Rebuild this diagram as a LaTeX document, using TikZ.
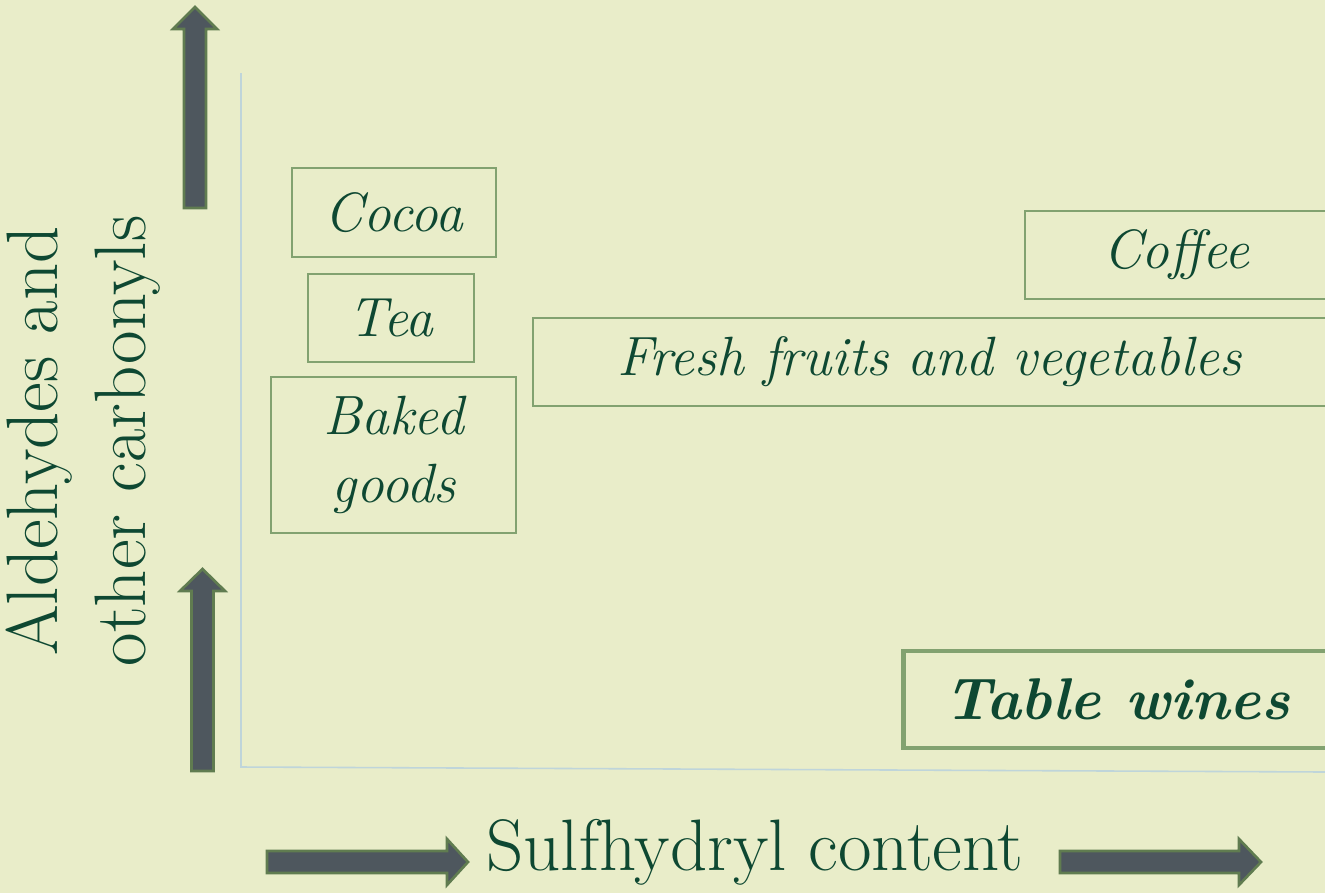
\documentclass[tikz,border=0pt]{standalone}
\usepackage{fontspec}
\definecolor{slidebg}{RGB}{233,237,201}
\definecolor{inkgreen}{RGB}{14,72,50}
\definecolor{boxgreen}{RGB}{130,162,112}
\definecolor{arrowfill}{RGB}{78,87,94}
\definecolor{arrowedge}{RGB}{96,124,80}
\definecolor{axisblue}{RGB}{191,213,218}
\tikzset{
  foodbox/.style={draw=boxgreen, line width=1.1pt, inner sep=0pt, align=center,
    text=inkgreen, font=\fontsize{31.5}{39}\selectfont\itshape},
  winebox/.style={foodbox, line width=2.8pt, font=\fontsize{33.5}{40}\selectfont\bfseries\itshape},
  fatarrow/.style={fill=arrowfill, draw=arrowedge, line width=1.5pt, line join=miter},
  axisline/.style={draw=axisblue, line width=0.9pt},
  axislabel/.style={text=inkgreen, font=\fontsize{41.5}{50}\selectfont, inner sep=0pt, align=center}
}
\begin{document}
\begin{tikzpicture}[x=0.02cm, y=-0.02cm]
  % Page and background
  \useasboundingbox (0,0) rectangle (1325,893);
  \fill[slidebg] (0,0) rectangle (1325,893);
  \clip (0,0) rectangle (1325,893);

  % Axis corner
  \coordinate (ytop) at (241,73);
  \coordinate (origin) at (241,767);
  \coordinate (xend) at (1325,772);
  \draw[axisline] (ytop) -- (origin) -- (xend);

  % Fat arrows along the axes
  \draw[fatarrow] (184,208) -- (184,29) -- (173,29) -- (195,7) -- (217,29) -- (206,29) -- (206,208) -- cycle;
  \draw[fatarrow] (191.5,771) -- (191.5,591) -- (180,591) -- (202.5,569) -- (225,591) -- (213.5,591) -- (213.5,771) -- cycle;
  \draw[fatarrow] (267,851) -- (447,851) -- (447,839) -- (468,862) -- (447,885) -- (447,873) -- (267,873) -- cycle;
  \draw[fatarrow] (1060,851) -- (1239,851) -- (1239,839) -- (1261,862) -- (1239,885) -- (1239,873) -- (1060,873) -- cycle;

  % Axis labels
  \node[axislabel] (xlabel) at (755,852) {Sulfhydryl content};
  \node[axislabel, rotate=90] (ylabel) at (83,441) {Aldehydes and\\other carbonyls};

  % Food boxes
  \node[foodbox, minimum width=4.08cm, minimum height=1.78cm] (cocoa) at (394,212.5) {Cocoa};
  \node[foodbox, minimum width=3.32cm, minimum height=1.76cm] (tea) at (391,318) {Tea};
  \node[foodbox, minimum width=4.9cm, minimum height=3.12cm] (baked) at (393.5,455) {Baked\\goods};
  \node[foodbox, minimum width=6.06cm, minimum height=1.76cm] (coffee) at (1176.5,255) {Coffee};
  \node[foodbox, minimum width=15.86cm, minimum height=1.76cm] (fresh) at (929.5,362) {Fresh fruits and vegetables};
  \node[winebox, minimum width=8.56cm, minimum height=1.94cm] (wines) at (1117,699.5) {Table wines};
\end{tikzpicture}
\end{document}
